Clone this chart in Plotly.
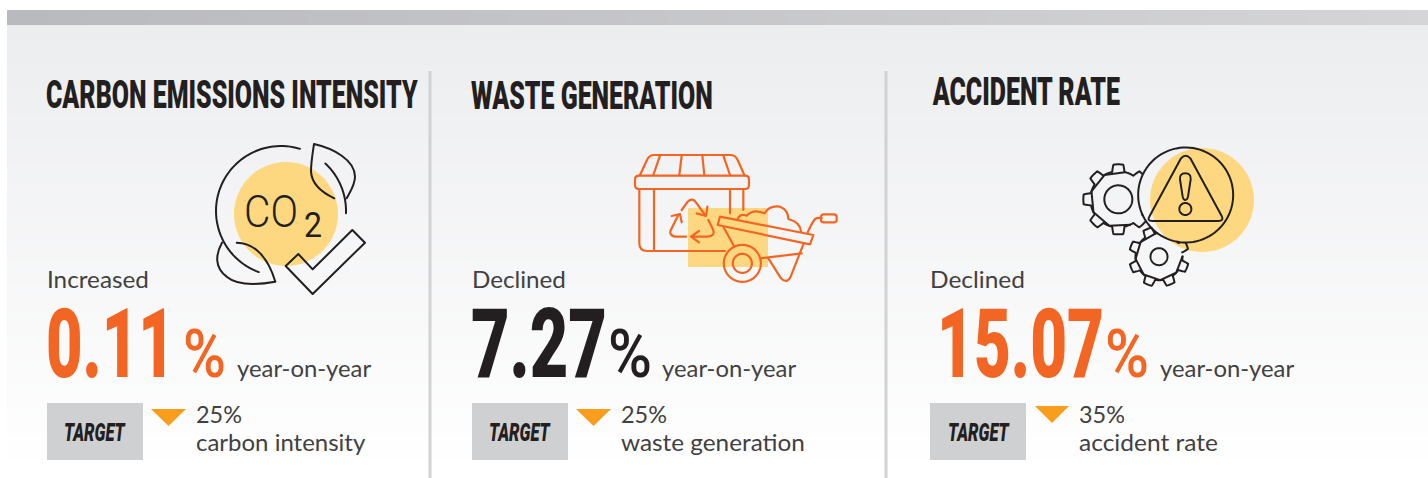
import json
import re
import numpy as np
import plotly.graph_objects as go

# ---------- data ----------
titles = ["CARBON EMISSIONS INTENSITY", "WASTE GENERATION", "ACCIDENT RATE"]
directions = ["Increased", "Declined", "Declined"]
values = [0.11, 7.27, 15.07]
period = "year-on-year"
target_label = "TARGET"
target_values = [25, 25, 35]
target_names = ["carbon intensity", "waste generation", "accident rate"]

# ---------- styles ----------
ORANGE = "#f36523"
INK = "#231f20"
BODY = "#414042"
YELLOW = "#fed880"
ARROW = "#f99d1c"
BOX = "#cfd0d2"
RULE = "#d1d2d4"
COND = "Roboto"
BODYF = "Lato"
value_colors = [ORANGE, INK, ORANGE]

# per-panel layout (pixels)
title_x = [(46, 372, 108), (471, 242, 108.5), (932, 188, 105)]
dir_x = [(47, 102), (472, 94), (930, 95)]
num_x = [(46, 129), (471, 136), (937, 167)]
pct_x = [(183, 43), (608, 44), (1105, 44)]
yoy_x = [237, 662, 1160]
box_x = [47, 472, 930]
tgt_x = [64, 489, 948]
tri_x = [(151, 186, 409), (576, 611, 409), (1035, 1069, 406)]
val_x = [196, 621, 1079]
name_w = [170, 184, 139]

shapes = []
texts = []


def mix(a, b, t):
    return "rgb(%d,%d,%d)" % tuple(round(a[i] + (b[i] - a[i]) * t) for i in range(3))


def rect(x0, y0, x1, y1, color):
    shapes.append(dict(type="rect", xref="x", yref="y", x0=x0, y0=y0, x1=x1, y1=y1,
                       fillcolor=color, line=dict(width=0)))


def zp(path, ox, oy, scale=3.0):
    """Turn a path written in 3x crop units into page pixels."""
    nums = iter(re.findall(r"-?\d+\.?\d*|[A-Za-z]", path))
    out, is_x = [], True
    for tok in nums:
        if tok.isalpha():
            out.append(tok)
            is_x = True
        else:
            v = float(tok) / scale + (ox if is_x else oy)
            out.append(f"{v:.2f}")
            is_x = not is_x
    return " ".join(out)


def stroke(path, color, width=2.0, fill=None):
    d = dict(type="path", xref="x", yref="y", path=path, line=dict(color=color, width=width))
    if fill:
        d["fillcolor"] = fill
    shapes.append(d)


def poly(pts, closed=False):
    s = "M " + " L ".join(f"{x:.2f} {y:.2f}" for x, y in pts)
    return s + (" Z" if closed else "")


def arc(cx, cy, r, a0, a1, n=60):
    a = np.radians(np.linspace(a0, a1, n))
    return [(cx + r * np.cos(t), cy + r * np.sin(t)) for t in a]


def circle(cx, cy, r, color, width=2.0, fill=None):
    stroke(poly(arc(cx, cy, r, 0, 360, 90), True), color, width, fill)


def gear(cx, cy, rin, rout, teeth, phase, clip=None):
    pts = []
    step = 360 / teeth
    for k in range(teeth):
        c = phase + k * step
        for ang, r in [(c - step * .5, rin), (c - step * .28, rin), (c - step * .18, rout),
                       (c + step * .18, rout), (c + step * .28, rin)]:
            pts.append((ang, r))
    pts.append(pts[0])
    dense = []
    for (a0, r0), (a1, r1) in zip(pts[:-1], pts[1:]):
        for t in np.linspace(0, 1, 8, endpoint=False):
            a = np.radians(a0 + (a1 - a0) * t)
            r = r0 + (r1 - r0) * t
            dense.append((cx + r * np.cos(a), cy + r * np.sin(a)))
    dense.append(dense[0])
    seg = []
    for p in dense:
        if clip and np.hypot(p[0] - clip[0], p[1] - clip[1]) < clip[2]:
            if len(seg) > 1:
                stroke(poly(seg), INK, 2.0)
            seg = []
        else:
            seg.append(p)
    if len(seg) > 1:
        stroke(poly(seg), INK, 2.0)


def label(text, x, base, width, size, color, family, weight=400, italic=False, bold_px=0):
    texts.append(dict(text=text, x=x, base=base, width=width, size=size, color=color,
                      family=family, weight=weight, italic=italic, bold=bold_px))


# ---------- background ----------
TOP, BOT = (236, 237, 239), (255, 255, 255)
for y in range(25, 478, 5):
    rect(7, y, 1428, y + 5, mix(TOP, BOT, min(1, (y - 25) / 445)))
for x in range(7, 1428, 20):
    rect(x, 10, min(x + 20, 1428), 25, mix((185, 186, 190), (213, 213, 215), (x - 7) / 1421))
for x in (430, 886):
    rect(x - 1.5, 71, x + 1.5, 478, RULE)

# ---------- CO2 icon ----------
OX, OY = 200, 130
circle(286, 214, 52, YELLOW, 0, YELLOW)
ring = (281, 211, 65)
stroke(poly(arc(*ring, -73, -250)), INK, 2.0)
stroke(poly(arc(*ring, 2, -47)), INK, 2.0)
stroke(zp("M 403 205 C 360 185 335 160 333 125 C 333 95 338 70 342 42 C 400 55 465 90 465 140 C 465 165 450 185 440 205", OX, OY), INK, 2.0)
stroke(zp("M 110 338 C 165 338 205 385 226 455 C 170 465 110 465 80 440 C 45 415 45 375 66 338", OX, OY), INK, 2.0)
stroke(zp("M 257 408 L 295 372 L 338 418 L 457 300 L 495 338 L 338 492 Z", OX, OY), INK, 2.0)

# ---------- waste icon ----------
OX, OY = 625, 145
rect(688, 208, 768, 267, YELLOW)
W = 2.2
for p in [
    "M 45 90 L 66 45 Q 72 30 88 30 L 315 30 Q 332 30 338 45 L 358 90",
    "M 42 92 L 360 92 Q 372 92 372 104 L 372 120 Q 372 132 360 132 L 42 132 Q 30 132 30 120 L 30 104 Q 30 92 42 92 Z",
    "M 105 32 L 85 90 M 170 32 L 163 90 M 232 32 L 238 90 M 295 32 L 315 90",
    "M 43 135 L 43 295 Q 43 318 66 318 L 300 318 M 87 135 L 87 318",
    "M 315 135 L 315 205 M 355 135 L 355 195",
    "M 170 195 L 188 170 Q 203 155 215 175 L 240 210 M 215 205 L 243 213 L 247 185",
    "M 250 225 L 265 255 Q 270 275 245 275 L 200 275 M 222 258 L 198 275 L 222 292",
    "M 183 275 L 150 275 Q 128 270 140 250 L 160 210 M 140 213 L 165 207 L 170 232",
    "M 285 215 L 565 270 L 555 298 L 278 240 Z",
    "M 338 222 Q 345 205 365 212 Q 385 190 418 205 Q 435 180 465 185 Q 490 195 490 222 Q 525 230 528 260",
    "M 295 245 L 328 305 M 408 340 L 530 325",
    "M 535 298 L 497 395 Q 485 418 468 400 L 430 340",
    "M 548 262 Q 560 235 570 222 Q 578 217 590 219",
    "M 596 208 L 627 208 Q 635 208 635 216 L 635 224 Q 635 232 627 232 L 596 232 Q 588 232 588 224 L 588 216 Q 588 208 596 208 Z",
]:
    stroke(zp(p, OX, OY), ORANGE, W)
circle(625 + 352 / 3, 145 + 355 / 3, 18.5, ORANGE, W)
circle(625 + 352 / 3, 145 + 355 / 3, 9.5, ORANGE, W)

# ---------- accident icon ----------
OX, OY = 1075, 140
circle(1202, 200, 52, YELLOW, 0, YELLOW)
ring3 = (1075 + 332 / 3, 140 + 165 / 3, 47.5)
gear(1075 + 130 / 3, 140 + 178 / 3, 28, 35, 8, 0, ring3)
circle(1075 + 130 / 3, 140 + 178 / 3, 14, INK, 2.0)
gear(1075 + 252 / 3, 140 + 350 / 3, 23.5, 30, 8, 22, ring3)
circle(1075 + 252 / 3, 140 + 350 / 3, 8.5, INK, 2.0)
circle(*ring3, INK, 2.0)
stroke(zp("M 318 55 Q 332 40 346 55 L 440 228 Q 448 243 430 243 L 232 243 Q 214 243 224 228 Z", OX, OY), INK, 2.0)
stroke(zp("M 315 118 Q 313 100 331 100 Q 349 100 347 118 L 339 170 Q 337 180 331 180 Q 325 180 323 170 Z", OX, OY), INK, 2.0)
circle(1075 + 331 / 3, 140 + 207 / 3, 6, INK, 2.0)

# ---------- panel contents ----------
for i in range(3):
    x, w, b = title_x[i]
    label(titles[i], x, b, w, 38, INK, COND, 900)
    label(directions[i], dir_x[i][0], 288, dir_x[i][1], 24, BODY, BODYF, 400)
    label(f"{values[i]:.2f}", num_x[i][0], 377, num_x[i][1], 96, value_colors[i], COND, 900)
    label("%", pct_x[i][0], 377, pct_x[i][1], 67, value_colors[i], COND, 500)
    label(period, yoy_x[i], 377, 134.5, 24, BODY, BODYF, 400)
    rect(box_x[i], 403, box_x[i] + 96, 460, BOX)
    label(target_label, tgt_x[i], 441, 62, 26, INK, COND, 900, italic=True)
    x0, x1, y0 = tri_x[i]
    shapes.append(dict(type="path", xref="x", yref="y", fillcolor=ARROW, line=dict(width=0),
                       path=f"M {x0} {y0} L {x1} {y0} L {(x0 + x1) / 2} {y0 + 17} Z"))
    label(f"{target_values[i]}%", val_x[i], 423, 46, 24, BODY, BODYF, 400)
    label(target_names[i], val_x[i], 451, name_w[i], 24, BODY, BODYF, 400)

label("CO", 244, 227, 54, 44, INK, "Roboto", 300)
label("2", 304, 237, 18, 35, INK, "Roboto", 400)

annotations = [
    dict(text=t["text"], x=t["x"], y=t["base"], xref="x", yref="y", xanchor="left", yanchor="bottom",
         showarrow=False, borderpad=0,
         font=dict(family=t["family"], size=t["size"], color=t["color"], weight=t["weight"],
                   style="italic" if t["italic"] else "normal"))
    for t in texts
]

fig = go.Figure()
fig.update_layout(
    width=1428, height=478, margin=dict(l=0, r=0, t=0, b=0),
    paper_bgcolor="#ffffff", plot_bgcolor="#ffffff", showlegend=False,
    xaxis=dict(range=[0, 1428], visible=False, fixedrange=True),
    yaxis=dict(range=[478, 0], visible=False, fixedrange=True),
    shapes=shapes, annotations=annotations,
)

fit = [dict(x=t["x"], base=t["base"], width=t["width"], bold=t["bold"], color=t["color"]) for t in texts]
post = """
document.documentElement.style.overflow='hidden';
document.body.style.margin='0';
var FIT=%s;
document.querySelectorAll('.shapelayer path').forEach(function(p){
  p.style.strokeLinejoin='round'; p.style.strokeLinecap='round';
});
document.querySelectorAll('.annotation').forEach(function(g,i){
  var f=FIT[i]; if(!f) return;
  var t=g.querySelector('text'); var c=t.parentNode;
  c.removeAttribute('transform');
  var r=g.querySelector('rect'); if(r) r.remove();
  t.setAttribute('x',0); t.setAttribute('y',0);
  t.style.textAnchor='start';
  t.setAttribute('text-anchor','start');
  var bb=t.getBBox();
  var sx=f.width/bb.width;
  t.setAttribute('transform','translate('+(f.x-bb.x*sx)+','+f.base+') scale('+sx+',1)');
  if(f.bold){t.style.stroke=f.color;t.style.strokeWidth=f.bold+'px';}
});
""" % json.dumps(fit)

fig.write_html("out.html", post_script=post, config=dict(displayModeBar=False))
